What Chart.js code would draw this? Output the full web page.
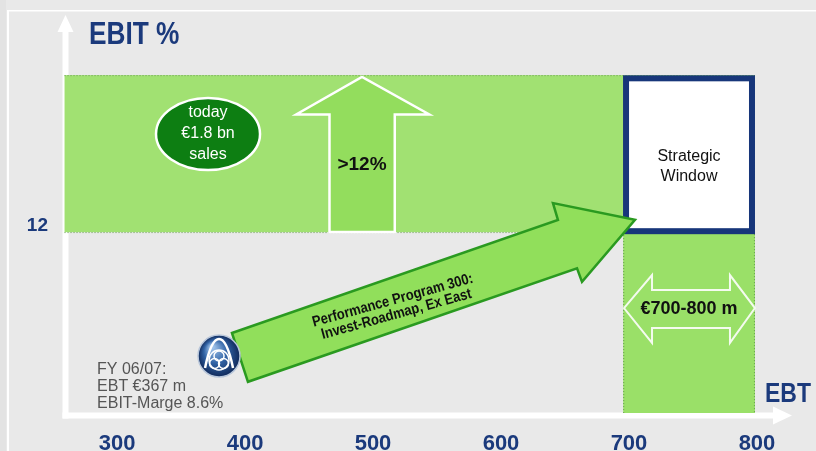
<!DOCTYPE html>
<html>
<head>
<meta charset="utf-8">
<script src="https://cdn.jsdelivr.net/npm/chart.js@4"></script>
<style>html,body{margin:0;padding:0;background:#e9e9e9}</style>
</head>
<body>
<canvas id="chart" width="816" height="451"></canvas>
<script>
// Werte aus dem Bild (EBT in Mio. €, EBIT in %)
var ebtTicks = [300, 400, 500, 600, 700, 800];
var ebitTicks = [12];
var ebtRange = [259, 798];          // grünes Band >12%
var ebitTarget = [12, 15.47];
var windowEbt = [695.5, 798.4];     // Spalte €700-800 m
var windowEbit = [8, 12];
var boxEbt = [697.7, 796.1];        // Strategic Window
var boxEbit = [12.02, 15.40];
var upArrowEbt = [466, 466, 440, 491.4, 544, 517, 517];
var upArrowEbit = [12, 14.6, 14.6, 15.43, 14.6, 14.6, 12];
var roadEbt = [389.8, 644.5, 640.6, 704.7, 663.3, 659.4, 402.3];
var roadEbit = [9.77, 12.27, 12.64, 12.27, 10.90, 11.20, 8.69];
var rangeEbt = [696.1, 718, 718, 778.9, 778.9, 798.4, 778.9, 778.9, 718, 718];
var rangeEbit = [10.32, 11.05, 10.72, 10.72, 11.05, 10.32, 9.55, 9.88, 9.88, 9.55];
var today = [371.1, 14.17];        // Ellipse "today"
var logo = [379.7, 9.26];
var fyText = [284.4, 8.95];

var navy = '#1b3a7c';
var sans = '"Liberation Sans", Arial, sans-serif';

function poly(c, xs, ys, sx, sy) {
    c.beginPath();
    for (var i = 0; i < xs.length; i++) {
        var px = sx.getPixelForValue(xs[i]), py = sy.getPixelForValue(ys[i]);
        if (i === 0) c.moveTo(px, py); else c.lineTo(px, py);
    }
    c.closePath();
}

function dotted(c, x1, y1, x2, y2) {
    c.save();
    c.setLineDash([1, 2]);
    c.strokeStyle = '#5f9a48';
    c.lineWidth = 1;
    c.beginPath(); c.moveTo(x1, y1); c.lineTo(x2, y2); c.stroke();
    c.restore();
}

// schmale Schrift durch horizontales Stauchen
function narrowText(c, txt, x, y, size, sq) {
    c.save();
    c.translate(x, y);
    c.scale(sq, 1);
    c.font = 'bold ' + size + 'px ' + sans;
    c.fillText(txt, 0, 0);
    c.restore();
}

function drawLogo(c, cx, cy, r) {
    var g = c.createRadialGradient(cx - 7, cy - 9, 2, cx, cy, r);
    g.addColorStop(0, '#9cc0e8');
    g.addColorStop(0.5, '#3264a6');
    g.addColorStop(1, '#10295a');
    c.beginPath(); c.arc(cx, cy, r, 0, Math.PI * 2);
    c.fillStyle = g; c.fill();
    c.lineWidth = 1.5; c.strokeStyle = '#b8c6da'; c.stroke();
    c.strokeStyle = '#fff';
    c.lineWidth = 2.5;
    c.beginPath();
    c.moveTo(cx - 14, cy + 12);
    c.quadraticCurveTo(cx - 8, cy - 17, cx, cy - 17);
    c.quadraticCurveTo(cx + 8, cy - 17, cx + 14, cy + 12);
    c.stroke();
    c.lineWidth = 1.5;
    c.beginPath(); c.arc(cx, cy + 4, 10, 0, Math.PI * 2); c.stroke();
    [[0, -1], [-4.5, 6.5], [4.5, 6.5]].forEach(function (o) {
        c.beginPath(); c.arc(cx + o[0], cy + 1 + o[1], 5, 0, Math.PI * 2); c.stroke();
    });
}

var drawing = {
    id: 'drawing',
    beforeDraw: function (chart) {
        var c = chart.ctx;
        c.save();
        c.fillStyle = '#e9e9e9';
        c.fillRect(0, 0, chart.width, chart.height);
        c.fillStyle = '#e3e3e3';
        c.fillRect(0, 0, 6, chart.height);
        c.fillStyle = '#ffffff';
        c.fillRect(7, 10, 2, chart.height - 10);
        c.fillRect(7, 10, chart.width - 7, 1.5);
        c.restore();
    },
    afterDraw: function (chart) {
        var c = chart.ctx, a = chart.chartArea;
        var sx = chart.scales.x, sy = chart.scales.y;
        var X = function (v) { return sx.getPixelForValue(v); };
        var Y = function (v) { return sy.getPixelForValue(v); };
        c.save();

        // Achsen (weiße Pfeile)
        var ax = a.left - 2.5, ay = a.bottom + 2.5;
        c.fillStyle = '#ffffff';
        c.fillRect(ax - 3, a.top + 15, 6, ay - a.top - 12);
        c.beginPath(); c.moveTo(ax, a.top); c.lineTo(ax + 8, a.top + 17); c.lineTo(ax - 8, a.top + 17); c.closePath(); c.fill();
        c.fillRect(ax - 3, ay - 3, a.right - ax - 14, 6);
        c.beginPath(); c.moveTo(a.right + 2, ay); c.lineTo(a.right - 17, ay - 9); c.lineTo(a.right - 17, ay + 9); c.closePath(); c.fill();

        // Bänder
        c.fillStyle = '#a1e172';
        c.fillRect(X(ebtRange[0]), Y(ebitTarget[1]), X(ebtRange[1]) - X(ebtRange[0]), Y(ebitTarget[0]) - Y(ebitTarget[1]));
        c.fillStyle = '#9ae068';
        c.fillRect(X(windowEbt[0]), Y(windowEbit[1]), X(windowEbt[1]) - X(windowEbt[0]), Y(windowEbit[0]) - Y(windowEbit[1]));
        dotted(c, X(ebtRange[0]), Y(ebitTarget[1]) + 0.5, X(ebtRange[1]), Y(ebitTarget[1]) + 0.5);
        dotted(c, X(ebtRange[0]), Y(ebitTarget[0]) + 0.5, X(windowEbt[0]), Y(ebitTarget[0]) + 0.5);
        dotted(c, X(windowEbt[0]) + 0.5, Y(windowEbit[1]), X(windowEbt[0]) + 0.5, Y(windowEbit[0]));
        dotted(c, X(windowEbt[1]) - 0.5, Y(ebitTarget[1]), X(windowEbt[1]) - 0.5, Y(windowEbit[0]));

        // Pfeil >12%
        poly(c, upArrowEbt, upArrowEbit, sx, sy);
        c.fillStyle = '#93dd5d'; c.fill();
        c.strokeStyle = '#ffffff'; c.lineWidth = 2.5; c.lineJoin = 'miter'; c.stroke();

        // Strategic Window
        c.fillStyle = '#ffffff';
        c.fillRect(X(boxEbt[0]), Y(boxEbit[1]), X(boxEbt[1]) - X(boxEbt[0]), Y(boxEbit[0]) - Y(boxEbit[1]));
        c.strokeStyle = '#17367a'; c.lineWidth = 6;
        c.strokeRect(X(boxEbt[0]), Y(boxEbit[1]), X(boxEbt[1]) - X(boxEbt[0]), Y(boxEbit[0]) - Y(boxEbit[1]));

        // Doppelpfeil €700-800 m
        poly(c, rangeEbt, rangeEbit, sx, sy);
        c.strokeStyle = '#f4fbef'; c.lineWidth = 2; c.stroke();

        // Performance Program Pfeil
        poly(c, roadEbt, roadEbit, sx, sy);
        c.fillStyle = '#91df5b'; c.fill();
        c.strokeStyle = '#2a9a20'; c.lineWidth = 2.5; c.stroke();

        // Ellipse today
        c.beginPath();
        c.ellipse(X(today[0]), Y(today[1]), 52, 36, 0, 0, Math.PI * 2);
        c.fillStyle = '#0d7e12'; c.fill();
        c.strokeStyle = '#ffffff'; c.lineWidth = 2.5; c.stroke();

        drawLogo(c, X(logo[0]), Y(logo[1]), 21);

        // Texte
        c.textBaseline = 'middle';
        c.textAlign = 'center';
        c.fillStyle = '#ffffff';
        c.font = '16px ' + sans;
        c.fillText('today', X(today[0]), Y(today[1]) - 21);
        c.fillText('€1.8 bn', X(today[0]), Y(today[1]));
        c.fillText('sales', X(today[0]), Y(today[1]) + 21);

        c.fillStyle = '#111111';
        c.font = 'bold 19px ' + sans;
        c.fillText('>12%', X(491.4), Y(13.48));
        c.font = '16px ' + sans;
        c.fillText('Strategic', X(746.9), Y(13.66));
        c.fillText('Window', X(746.9), Y(13.22));
        c.font = 'bold 18px ' + sans;
        c.fillText('€700-800 m', X(746.9), Y(10.30));

        c.save();
        c.translate(X(516.8), Y(10.34));
        c.rotate(-15.5 * Math.PI / 180);
        c.scale(1, 1.15);
        c.font = 'bold 13px ' + sans;
        c.fillText('Performance Program 300:', 0, -6);
        c.fillText('Invest-Roadmap, Ex East', 0, 6.5);
        c.restore();

        c.textAlign = 'left';
        c.fillStyle = '#555555';
        c.font = '16px ' + sans;
        c.fillText('FY 06/07:', X(fyText[0]), Y(fyText[1]));
        c.fillText('EBT €367 m', X(fyText[0]), Y(fyText[1]) + 17);
        c.fillText('EBIT-Marge 8.6%', X(fyText[0]), Y(fyText[1]) + 34);

        c.fillStyle = navy;
        narrowText(c, 'EBIT %', a.left + 21, 35, 32, 0.82);
        narrowText(c, 'EBT', 765, 394, 28, 0.82);
        c.restore();
    }
};

var ctx = document.getElementById('chart').getContext('2d');
var chart = new Chart(ctx, {
    type: 'scatter',
    data: { datasets: [{ data: [], showLine: false }] },
    options: {
        responsive: false,
        animation: false,
        layout: { padding: { top: 15, right: 26, left: 0, bottom: 0 } },
        plugins: { legend: { display: false }, tooltip: { enabled: false } },
        scales: {
            x: {
                type: 'linear', min: 261.7, max: 825.8,
                afterBuildTicks: function (s) { s.ticks = ebtTicks.map(function (v) { return { value: v }; }); },
                afterFit: function (s) { s.height = 38; s.paddingLeft = 0; s.paddingRight = 0; },
                grid: { display: false, drawTicks: false },
                border: { display: false },
                ticks: { color: navy, padding: 18, font: { family: sans, size: 22, weight: 'bold' } }
            },
            y: {
                type: 'linear', min: 8, max: 16.8,
                afterBuildTicks: function (s) { s.ticks = ebitTicks.map(function (v) { return { value: v }; }); },
                afterFit: function (s) { s.width = 68; s.paddingTop = 0; s.paddingBottom = 0; },
                grid: { display: false, drawTicks: false },
                border: { display: false },
                ticks: { color: navy, padding: 20, labelOffset: -6, font: { family: sans, size: 19, weight: 'bold' } }
            }
        }
    },
    plugins: [drawing]
});
</script>
</body>
</html>
